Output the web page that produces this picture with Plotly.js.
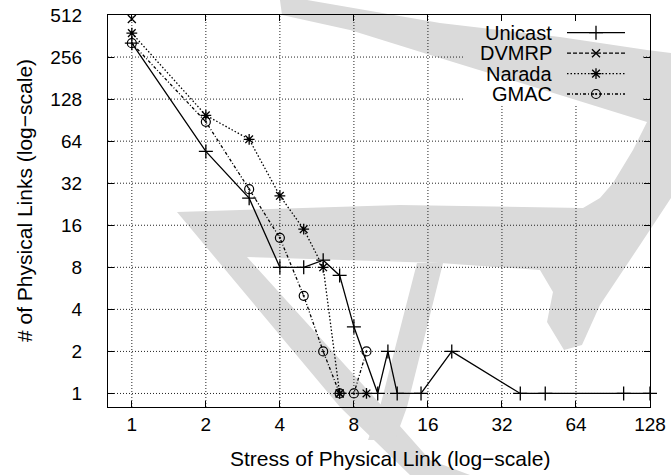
<!DOCTYPE html>
<html>
<head>
<meta charset="utf-8">
<script src="https://cdn.plot.ly/plotly-3.0.1.min.js"></script>
<style>
  html, body { margin: 0; padding: 0; background: #fff; }
  #chart { width: 671px; height: 475px; }
</style>
</head>
<body>
<div id="chart"></div>
<script>
// Link stress distribution, log-log (base 2)
const xTicks = [1, 2, 4, 8, 16, 32, 64, 128];
const yTicks = [1, 2, 4, 8, 16, 32, 64, 128, 256, 512];

const seriesNames = ['Unicast', 'DVMRP', 'Narada', 'GMAC'];
const xTitle = 'Stress of Physical Link (log\u2212scale)';
const yTitle = '# of Physical Links (log\u2212scale)';

const unicastX = [1, 2, 3, 4, 5, 6, 7, 8, 10, 11, 12, 15, 20, 38, 48, 100, 128];
const unicastY = [322, 54, 25, 8, 8, 9, 7, 3, 1, 2, 1, 1, 2, 1, 1, 1, 1];

const dvmrpX = [1, 7];
const dvmrpY = [480, 1];

const naradaX = [1, 2, 3, 4, 5, 6, 7, 9];
const naradaY = [380, 98, 66, 26, 15, 8, 1, 1];

const gmacX = [1, 2, 3, 4, 5, 6, 7, 8, 9];
const gmacY = [322, 88, 29, 13, 5, 2, 1, 1, 2];

// ---- geometry helpers (pixel -> paper fraction) ----
const W = 671, H = 475;
const M = { l: 108, r: 21, t: 15, b: 68 };
const PW = W - M.l - M.r, PH = H - M.t - M.b;
const fx = px => (px - M.l) / PW;
const fy = py => (H - M.b - py) / PH;
const path = pts => 'M' + pts.map(p => fx(p[0]).toFixed(4) + ',' + fy(p[1]).toFixed(4)).join('L') + 'Z';

const FONT = 'Liberation Sans, Arial, Helvetica, sans-serif';
const INK = '#000';
const GRID = '#222';
const NBSP = '\u00a0';

// faint background emblem
const emblemColor = '#dadada';
const emblem = [
  // upper sweep, right-hand stroke, crossbar and long left stroke
  [[280,0],[307,0],[440,23],[560,37],[647,50],[671,53],[671,198],[640,245],[600,305],[582,345],[564,350],[547,322],
   [553,292],[540,270],[440,263],[247,257],[383,407],[430,460],[470,475],[410,475],[340,407],[177,212],
   [400,205],[583,208],[600,198],[613,183],[633,150],[647,122],[560,95],[440,58],[350,30],[282,15]],
  // short right stroke
  [[417,263],[443,263],[407,407],[395,440],[368,440],[380,407]]
];

const shapes = emblem.map(pts => ({
  type: 'path', xref: 'paper', yref: 'paper', layer: 'below',
  path: path(pts), fillcolor: emblemColor, line: { width: 0 }
}));

// key area: grid is left blank behind it
const keyBox = { x0: 465, x1: 643, y0: 15, y1: 105 };

// dotted grid, drawn as segments so the key area stays clear
const gridLine = { color: GRID, width: 1, dash: '1px,2px' };
yTicks.forEach(v => {
  if (v >= 512) return;
  const yp = 393.3 - 42 * Math.log2(v); // approx pixel row of this tick
  if (yp >= keyBox.y0 && yp <= keyBox.y1) {
    shapes.push({ type: 'line', xref: 'x domain', yref: 'y', layer: 'below',
      x0: 0, x1: fx(keyBox.x0), y0: v, y1: v, line: gridLine });
    shapes.push({ type: 'line', xref: 'x domain', yref: 'y', layer: 'below',
      x0: fx(keyBox.x1), x1: 1, y0: v, y1: v, line: gridLine });
  } else {
    shapes.push({ type: 'line', xref: 'x domain', yref: 'y', layer: 'below',
      x0: 0, x1: 1, y0: v, y1: v, line: gridLine });
  }
});
xTicks.forEach(v => {
  if (v >= 128) return;
  const xp = 132.3 + 74 * Math.log2(v);
  const top = (xp >= keyBox.x0 && xp <= keyBox.x1) ? fy(keyBox.y1) : 1;
  shapes.push({ type: 'line', xref: 'x', yref: 'y domain', layer: 'below',
    x0: v, x1: v, y0: 0, y1: top, line: gridLine });
});

const lineW = 1.3;
const traces = [
  { name: seriesNames[0], x: unicastX, y: unicastY, mode: 'lines+markers',
    line: { color: INK, width: lineW },
    marker: { symbol: 'cross-thin-open', size: 10, color: INK, line: { color: INK, width: 1.3 } } },
  { name: seriesNames[1], x: dvmrpX, y: dvmrpY, mode: 'markers',
    line: { color: INK, width: lineW, dash: '4px,2px' },
    marker: { symbol: 'x-thin-open', size: 8, color: INK, line: { color: INK, width: 1.3 } } },
  { name: seriesNames[2], x: naradaX, y: naradaY, mode: 'lines+markers',
    line: { color: INK, width: lineW, dash: '1.5px,2px' },
    marker: { symbol: 'asterisk-open', size: 9, color: INK, line: { color: INK, width: 1.3 } } },
  { name: seriesNames[3], x: gmacX, y: gmacY, mode: 'lines+markers',
    line: { color: INK, width: lineW, dash: '3px,2px,1px,2px' },
    marker: { symbol: 'circle-open-dot', size: 9, color: INK, line: { color: INK, width: 1.2 } } }
];
traces.forEach(t => { t.showlegend = false; t.cliponaxis = false; });

// key: label on the left, line sample with marker on the right
const keyRows = [32.7, 53.2, 73.6, 94.0];
const keyTextRight = 553, keyLineX0 = 567, keyLineX1 = 625, keyMarkX = 596;
const annotations = [];
traces.forEach((t, i) => {
  const yr = fy(keyRows[i]);
  traces.push({
    x: [fx(keyLineX0), fx(keyMarkX), fx(keyLineX1)], y: [yr, yr, yr],
    xaxis: 'x2', yaxis: 'y2', mode: 'lines+markers', showlegend: false, hoverinfo: 'skip',
    line: Object.assign({}, t.line),
    marker: Object.assign({}, t.marker, { opacity: [0, 1, 0] })
  });
  annotations.push({
    xref: 'paper', yref: 'paper', x: fx(keyTextRight), y: yr,
    xanchor: 'right', yanchor: 'middle', showarrow: false, borderpad: 0,
    text: t.name, font: { family: FONT, size: 20, color: INK }
  });
});

// axis titles
annotations.push({
  xref: 'paper', yref: 'paper', x: fx(390), y: fy(458),
  xanchor: 'center', yanchor: 'middle', showarrow: false,
  text: xTitle, font: { family: FONT, size: 21, color: INK }
});
annotations.push({
  xref: 'paper', yref: 'paper', x: fx(24), y: fy(201),
  xanchor: 'center', yanchor: 'middle', showarrow: false, textangle: -90,
  text: yTitle, font: { family: FONT, size: 21, color: INK }
});

const axisCommon = {
  type: 'log', showgrid: false, zeroline: false,
  showline: true, linecolor: INK, linewidth: 1, mirror: 'ticks',
  ticks: 'inside', ticklen: 6, tickwidth: 1, tickcolor: INK,
  tickfont: { family: FONT, size: 19, color: INK }
};

const layout = {
  width: W, height: H,
  margin: M,
  paper_bgcolor: '#fff', plot_bgcolor: 'rgba(0,0,0,0)',
  font: { family: FONT, color: INK },
  xaxis: Object.assign({}, axisCommon, {
    range: [Math.log10(0.8), Math.log10(128)],
    tickvals: xTicks, ticktext: xTicks.map(String)
  }),
  yaxis: Object.assign({}, axisCommon, {
    range: [Math.log10(0.8), Math.log10(512)],
    tickvals: yTicks, ticktext: yTicks.map(v => String(v) + NBSP.repeat(4))
  }),
  xaxis2: { overlaying: 'x', range: [0, 1], visible: false, fixedrange: true },
  yaxis2: { overlaying: 'y', range: [0, 1], visible: false, fixedrange: true },
  shapes: shapes,
  annotations: annotations,
  showlegend: false
};

Plotly.newPlot('chart', traces, layout, { staticPlot: true, displayModeBar: false });
</script>
</body>
</html>
